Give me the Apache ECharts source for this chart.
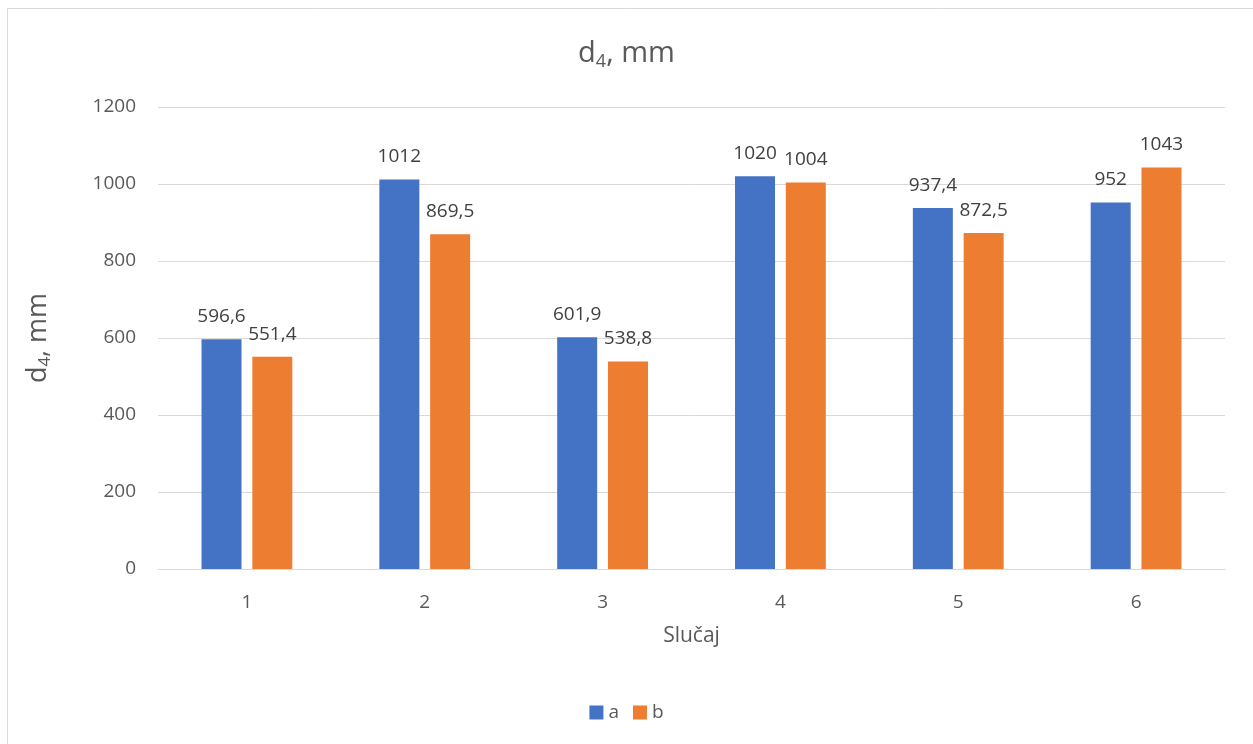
<!DOCTYPE html>
<html><head><meta charset="utf-8">
<script src="https://cdn.jsdelivr.net/npm/echarts@6/dist/echarts.min.js"></script>
<style>html,body{margin:0;padding:0;background:#fff}#c{width:1253px;height:744px}</style>
</head><body><div id="c"></div>
<script>
const categories = ['1','2','3','4','5','6'];
const seriesA = [596.6, 1012, 601.9, 1020, 937.4, 952];
const seriesB = [551.4, 869.5, 538.8, 1004, 872.5, 1043];
const yTicks = {min:0, max:1200, interval:200};

const FONT = "'Open Sans', 'Noto Sans', sans-serif";
const chart = echarts.init(document.getElementById('c'));
const fmt = v => String(v.value !== undefined ? v.value : v).replace('.', ',');
chart.setOption({
  animation:false,
  textStyle:{fontFamily:FONT},
  graphic:[{type:'rect', shape:{x:7.5,y:8.5,width:1300,height:800}, style:{fill:'none', stroke:'#d9d9d9', lineWidth:1}, silent:true}],
  title:{
    text:'{a|d}{s|4}{a|, mm}', left:'center', top:32,
    textStyle:{fontWeight:'normal', rich:{
      a:{fontSize:29, color:'#595959', fontFamily:FONT, fontWeight:'normal'},
      s:{fontSize:18, color:'#595959', fontFamily:FONT, fontWeight:'normal', padding:[16,0,0,0]}
    }}
  },
  legend:{
    data:['a','b'], bottom:17, left:'center', itemWidth:14, itemHeight:14, itemGap:14,
    icon:'rect', textStyle:{fontSize:19, color:'#595959', fontFamily:FONT}
  },
  grid:{left:158, right:28, top:107, bottom:175, containLabel:false},
  xAxis:{
    type:'category', data:categories,
    name:'Slučaj', nameLocation:'middle', nameGap:57,
    nameTextStyle:{fontSize:21, color:'#595959', fontFamily:FONT},
    axisLine:{lineStyle:{color:'#d9d9d9', width:1}}, axisTick:{show:false},
    axisLabel:{fontSize:19, color:'#595959', margin:24, fontFamily:FONT}
  },
  yAxis:{
    type:'value', min:yTicks.min, max:yTicks.max, interval:yTicks.interval,
    name:'{a|d}{s|4}{a|, mm}', nameLocation:'middle', nameGap:104, nameRotate:90,
    nameTextStyle:{rich:{
      a:{fontSize:27, color:'#595959', fontFamily:FONT},
      s:{fontSize:17, color:'#595959', fontFamily:FONT, padding:[15,0,0,0]}
    }},
    axisLine:{show:false}, axisTick:{show:false},
    splitLine:{lineStyle:{color:'#d9d9d9', width:1}},
    axisLabel:{fontSize:19, color:'#595959', margin:22, fontFamily:FONT, formatter:v => String(v)}
  },
  series:[
    {name:'a', type:'bar', data:seriesA, barWidth:40, barGap:'27%',
     itemStyle:{color:'#4472C4'},
     label:{show:true, position:'top', distance:13, fontSize:19, color:'#404040', fontFamily:FONT, formatter:fmt}},
    {name:'b', type:'bar', data:seriesB, barWidth:40,
     itemStyle:{color:'#ED7D31'},
     label:{show:true, position:'top', distance:13, fontSize:19, color:'#404040', fontFamily:FONT, formatter:fmt}}
  ]
});
</script></body></html>
